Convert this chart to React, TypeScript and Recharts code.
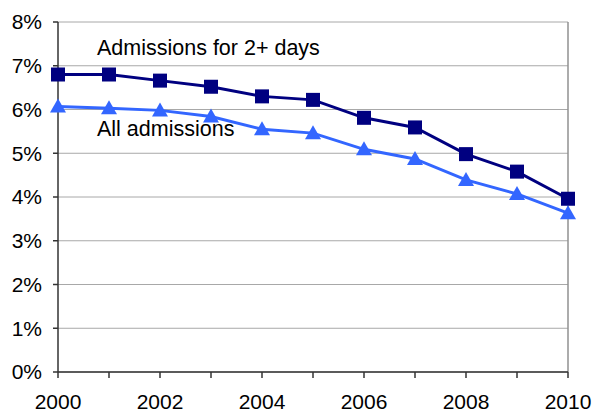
import React from 'react';
import { LineChart, Line, XAxis, YAxis, CartesianGrid, ReferenceLine } from 'recharts';

const years = [2000, 2001, 2002, 2003, 2004, 2005, 2006, 2007, 2008, 2009, 2010];
const admissions2Plus = [6.8, 6.8, 6.66, 6.52, 6.3, 6.22, 5.81, 5.59, 4.98, 4.58, 3.96];
const allAdmissions = [6.07, 6.03, 5.98, 5.84, 5.55, 5.46, 5.09, 4.87, 4.39, 4.07, 3.63];
const yTicks = [0, 1, 2, 3, 4, 5, 6, 7, 8];
const seriesNames = ['Admissions for 2+ days', 'All admissions'];

const data = years.map((y, i) => ({ year: y, a: admissions2Plus[i], b: allAdmissions[i] }));

const FONT = '"Liberation Sans", Arial, sans-serif';

const Square = (props: any) => {
  const { cx, cy, index } = props;
  if (cx == null || cy == null) return null;
  return <rect key={`s${index}`} x={cx - 7} y={cy - 7} width={14} height={14} fill="#000080" />;
};

const Triangle = (props: any) => {
  const { cx, cy, index } = props;
  if (cx == null || cy == null) return null;
  return (
    <polygon
      key={`t${index}`}
      points={`${cx},${cy - 8} ${cx + 8},${cy + 6} ${cx - 8},${cy + 6}`}
      fill="#3366FF"
    />
  );
};

const labelStyle: React.CSSProperties = {
  position: 'absolute',
  left: 97,
  fontSize: 21.5,
  lineHeight: '24px',
  color: '#000',
  whiteSpace: 'nowrap',
};

export default function App() {
  return (
    <div style={{ position: 'absolute', left: 0, top: 0, width: 594, height: 412, background: '#fff', fontFamily: FONT }}>
      <LineChart width={594} height={412} data={data} margin={{ top: 22, right: 26, bottom: 0, left: 0 }}>
        <CartesianGrid vertical={false} stroke="#a8a8a8" strokeWidth={1} />
        <XAxis
          dataKey="year"
          type="number"
          domain={[2000, 2010]}
          ticks={years}
          interval={0}
          tickFormatter={(v: number) => (v % 2 === 0 ? String(v) : '')}
          height={40}
          stroke="#333"
          strokeWidth={1.5}
          tickSize={6}
          tick={{ fill: '#000', fontSize: 21, fontFamily: FONT }}
          tickMargin={16}
        />
        <YAxis
          domain={[0, 8]}
          ticks={yTicks}
          tickFormatter={(v: number) => `${v}%`}
          width={58}
          stroke="#333"
          strokeWidth={1.5}
          tickSize={5}
          tick={{ fill: '#000', fontSize: 21, fontFamily: FONT }}
          tickMargin={11}
        />
        <ReferenceLine x={2010} stroke="#909090" strokeWidth={1.5} />
        <Line dataKey="a" name={seriesNames[0]} stroke="#000080" strokeWidth={3} dot={Square} isAnimationActive={false} />
        <Line dataKey="b" name={seriesNames[1]} stroke="#3366FF" strokeWidth={3} dot={Triangle} isAnimationActive={false} />
      </LineChart>
      <div style={{ ...labelStyle, top: 36 }}>{seriesNames[0]}</div>
      <div style={{ ...labelStyle, top: 117 }}>{seriesNames[1]}</div>
    </div>
  );
}
